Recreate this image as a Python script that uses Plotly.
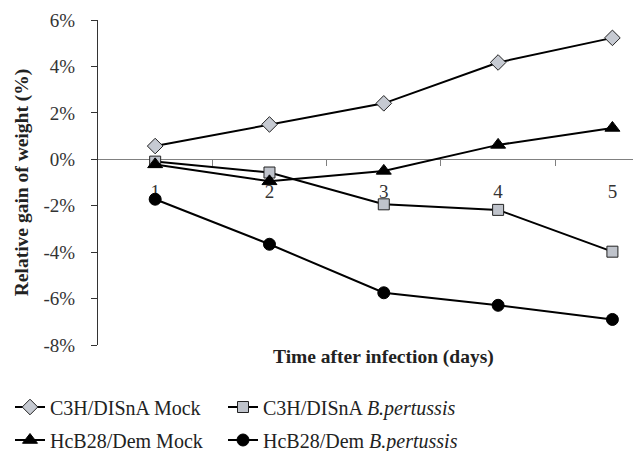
import plotly.graph_objects as go

days = [1, 2, 3, 4, 5]
day_labels = ["1", "2", "3", "4", "5"]
c3h_mock = [0.57, 1.50, 2.41, 4.17, 5.23]
c3h_bp = [-0.10, -0.57, -1.94, -2.18, -3.98]
hcb_mock = [-0.22, -0.95, -0.50, 0.62, 1.35]
hcb_bp = [-1.72, -3.66, -5.75, -6.29, -6.90]
y_ticks = [-8, -6, -4, -2, 0, 2, 4, 6]
y_tick_labels = ["-8%", "-6%", "-4%", "-2%", "0%", "2%", "4%", "6%"]
boundaries = [1.5, 2.5, 3.5, 4.5]

FONT = "Liberation Serif, DejaVu Serif, serif"
LINE = dict(color="black", width=2)

fig = go.Figure()
fig.add_trace(go.Scatter(x=days, y=c3h_mock, mode="lines+markers", name="C3H/DISnA Mock",
                         line=LINE, legend="legend",
                         marker=dict(symbol="diamond", size=12, color="#c6cad2",
                                     line=dict(color="#222222", width=1))))
fig.add_trace(go.Scatter(x=days, y=c3h_bp, mode="lines+markers", name="C3H/DISnA <i>B.pertussis</i>",
                         line=LINE, legend="legend2",
                         marker=dict(symbol="square", size=11, color="#bfc3cb",
                                     line=dict(color="#222222", width=1))))
fig.add_trace(go.Scatter(x=days, y=hcb_mock, mode="lines+markers", name="HcB28/Dem Mock",
                         line=LINE, legend="legend3",
                         marker=dict(symbol="triangle-up", size=13, color="black",
                                     line=dict(color="black", width=1))))
fig.add_trace(go.Scatter(x=days, y=hcb_bp, mode="lines+markers", name="HcB28/Dem <i>B.pertussis</i>",
                         line=LINE, legend="legend4",
                         marker=dict(symbol="circle", size=12, color="black",
                                     line=dict(color="black", width=1))))

zero_pos = (0 - y_ticks[0]) / (y_ticks[-1] - y_ticks[0])

legend_common = dict(orientation="h", xref="container", yref="container",
                     xanchor="left", yanchor="middle",
                     font=dict(family=FONT, size=20, color="#222222"), bgcolor="rgba(0,0,0,0)")
row1 = 1 - 407 / 451
row2 = 1 - 440 / 451
col1 = 10 / 633
col2 = 223 / 633

fig.update_layout(
    width=633, height=451,
    margin=dict(l=98, r=0, t=20, b=106, autoexpand=False),
    paper_bgcolor="white", plot_bgcolor="white",
    font=dict(family=FONT, size=19, color="black"),
    xaxis=dict(range=[0.5, 5.18], tickvals=days, ticktext=day_labels,
               anchor="free", position=zero_pos, side="bottom", automargin=False,
               showline=True, linecolor="#808080", linewidth=1,
               ticks="", ticklen=0, ticklabelstandoff=15,
               tickfont=dict(family=FONT, size=19, color="#333333"),
               minor=dict(tickvals=boundaries, ticks="outside", ticklen=6,
                          tickcolor="#808080", tickwidth=1),
               showgrid=False, zeroline=False, layer="below traces"),
    yaxis=dict(range=[y_ticks[0], y_ticks[-1]], tickvals=y_ticks, ticktext=y_tick_labels,
               showline=True, linecolor="#333333", linewidth=1, automargin=False,
               ticks="outside", ticklen=6, tickcolor="#333333",
               ticklabelstandoff=12,
               tickfont=dict(family=FONT, size=19, color="#333333"),
               showgrid=False, zeroline=False,
               title=dict(text="<b>Relative gain of weight (%)</b>", standoff=9,
                          font=dict(family=FONT, size=19.5, color="#222222"))),
    legend=dict(legend_common, x=col1, y=row1),
    legend2=dict(legend_common, x=col2, y=row1),
    legend3=dict(legend_common, x=col1, y=row2),
    legend4=dict(legend_common, x=col2, y=row2),
    showlegend=True,
)

fig.add_annotation(text="<b>Time after infection (days)</b>", x=3, xref="x",
                   y=-(357 - 345) / 325, yref="paper", yanchor="middle", xanchor="center",
                   showarrow=False, font=dict(family=FONT, size=19.5, color="#222222"))

fig.write_html("out.html", config={"displayModeBar": False},
               post_script="document.body.style.margin='0';document.body.style.padding='0';")
